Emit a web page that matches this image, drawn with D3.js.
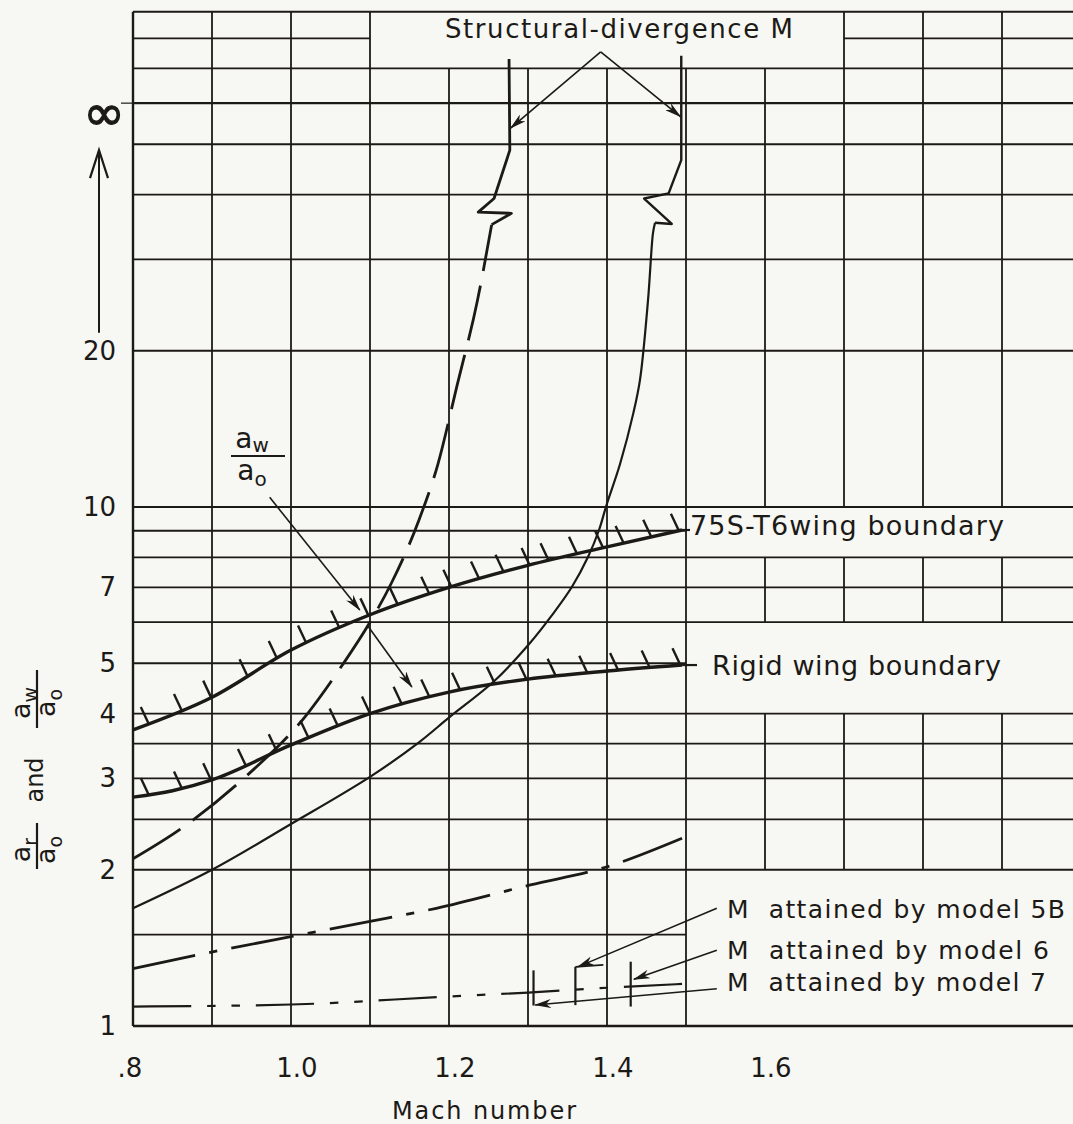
<!DOCTYPE html>
<html>
<head>
<meta charset="utf-8">
<script src="https://cdn.jsdelivr.net/npm/d3@7"></script>
<style>
  html, body { margin: 0; padding: 0; background: #f7f7f4; }
  svg { display: block; }
  text { font-family: "DejaVu Sans", sans-serif; fill: #1c1a17; }
</style>
</head>
<body>
<div id="chart"></div>
<script>
var width = 1073, height = 1124;
var ink = "#1c1a17";

// axes
var machGrid = [0.8, 0.9, 1.0, 1.1, 1.2, 1.3, 1.4, 1.5, 1.6, 1.7, 1.8, 1.9];
var machTicks = [0.8, 1.0, 1.2, 1.4, 1.6];
var machTickLabels = [".8", "1.0", "1.2", "1.4", "1.6"];
var ratioGrid = [1, 1.5, 2, 2.5, 3, 3.5, 4, 5, 6, 7, 8, 9, 10, 20, 30, 40, 50, 60, 70, 80, 90];
var ratioTicks = [1, 2, 3, 4, 5, 7, 10, 20];
var ratioTickLabels = ["1", "2", "3", "4", "5", "7", "10", "20"];
var infinityLevel = 60;

// curves, [Mach, ratio]
var wing75S = [[0.8, 3.72], [0.9, 4.3], [1.0, 5.3], [1.1, 6.2], [1.2, 7.0], [1.3, 7.72], [1.4, 8.38], [1.495, 9.03]];
var rigidWing = [[0.8, 2.76], [0.85, 2.84], [0.9, 2.98], [1.0, 3.48], [1.1, 4.0], [1.2, 4.4], [1.3, 4.66], [1.4, 4.83], [1.495, 4.96]];
var awCurve = [[0.8, 2.10], [0.859, 2.39], [0.938, 2.98], [1.021, 4.0], [1.065, 4.96], [1.098, 5.93], [1.127, 7.13],
               [1.162, 9.44], [1.186, 12.1], [1.210, 17.1], [1.236, 25.0], [1.254, 35.0]];
var awBreak = [[1.254, 35.0], [1.279, 36.8], [1.237, 37.0], [1.257, 39.3], [1.277, 48.7], [1.276, 73]];
var arCurve = [[0.8, 1.686], [0.9, 2.0], [1.0, 2.45], [1.1, 3.02], [1.162, 3.52], [1.201, 3.94], [1.258, 4.63],
               [1.3025, 5.47], [1.3304, 6.19], [1.3557, 7.02], [1.3759, 8.01], [1.3899, 9.03], [1.3994, 10.09],
               [1.4165, 12.1], [1.4335, 15.2], [1.4418, 17.6], [1.4519, 25.0], [1.4582, 33.7], [1.4608, 35.3]];
var arBreak = [[1.4608, 35.3], [1.482, 35.1], [1.447, 39.3], [1.478, 40.2], [1.494, 46.6], [1.494, 74]];
var lowerCurve = [[0.8, 1.29], [0.881, 1.37], [1.003, 1.49], [1.1, 1.59], [1.184, 1.686], [1.303, 1.87], [1.397, 2.02], [1.495, 2.3]];
var model7Curve = [[0.8, 1.09], [1.0, 1.10], [1.2, 1.14], [1.3, 1.16], [1.4, 1.185], [1.495, 1.205]];

// hatch positions along the boundaries (Mach)
var wing75SHatch = [0.82, 0.862, 0.899, 0.945, 0.982, 1.019, 1.061, 1.098, 1.135, 1.175, 1.203, 1.238, 1.269,
                    1.302, 1.326, 1.362, 1.395, 1.421, 1.456, 1.491];
var rigidHatch = [0.82, 0.862, 0.899, 0.943, 0.982, 1.022, 1.059, 1.100, 1.140, 1.175, 1.214, 1.258, 1.298,
                  1.335, 1.375, 1.414, 1.454, 1.493];

// model markers: Mach attained, ratio from / to
var modelNames = ["5B", "6", "7"];
var modelMach = [1.36, 1.43, 1.307];
var modelLow = [1.097, 1.09, 1.095];
var modelHigh = [1.30, 1.33, 1.28];

var x = d3.scaleLinear().domain([0.8, 2.0]).range([133, 1081]);
var y = d3.scaleLog().domain([1, 90]).range([1026, 1026 - 519 * Math.log10(90)]);

var svg = d3.select("#chart")
    .append("svg")
    .attr("width", width)
    .attr("height", height);

svg.append("rect").attr("width", width).attr("height", height).attr("fill", "#f7f7f4");

var defs = svg.append("defs");
defs.append("marker")
    .attr("id", "arrow")
    .attr("viewBox", "0 0 17 9")
    .attr("refX", 16).attr("refY", 4.5)
    .attr("markerWidth", 17).attr("markerHeight", 9)
    .attr("markerUnits", "userSpaceOnUse")
    .attr("orient", "auto")
    .append("path")
    .attr("d", "M0,0 L17,4.5 L0,9 L5,4.5 Z")
    .attr("fill", ink);

// grid, with the gaps left for the labels
var vSegs = [];
machGrid.forEach(function(m) {
    var top = (m >= 1.15 && m <= 1.65) ? 70 : 90;
    if (m > 1.55) {
        vSegs.push([m, 2, 4], [m, 6, 8], [m, 10, top]);
    } else {
        vSegs.push([m, 1, top]);
    }
});
var hSegs = [];
ratioGrid.forEach(function(r) {
    if (r === 1.5 || r === 9 || r === 5) hSegs.push([r, 0.8, 1.5]);
    else if (r === 80) hSegs.push([r, 0.8, 1.1], [r, 1.7, 2.0]);
    else hSegs.push([r, 0.8, 2.0]);
});

var grid = svg.append("g").attr("stroke", ink).attr("fill", "none");
grid.selectAll("line.v")
    .data(vSegs)
    .enter().append("line")
    .attr("class", "v")
    .attr("x1", function(d) { return x(d[0]); })
    .attr("x2", function(d) { return x(d[0]); })
    .attr("y1", function(d) { return y(d[1]); })
    .attr("y2", function(d) { return y(d[2]); })
    .attr("stroke-width", function(d) { return d[0] === 0.8 ? 2.4 : 1.8; });
grid.selectAll("line.h")
    .data(hSegs)
    .enter().append("line")
    .attr("class", "h")
    .attr("x1", function(d) { return x(d[1]); })
    .attr("x2", function(d) { return x(d[2]); })
    .attr("y1", function(d) { return y(d[0]); })
    .attr("y2", function(d) { return y(d[0]); })
    .attr("stroke-width", function(d) { return (d[0] === 1 || d[0] === infinityLevel) ? 2.4 : 1.8; });
// little tick left of the infinity line
grid.append("line")
    .attr("x1", x(0.8) - 12).attr("x2", x(0.8))
    .attr("y1", y(infinityLevel)).attr("y2", y(infinityLevel))
    .attr("stroke-width", 1.2);

// tick labels
svg.append("g").selectAll("text")
    .data(machTicks)
    .enter().append("text")
    .attr("x", function(d, i) { return x(d) + (i === 0 ? -3 : 6); })
    .attr("y", 1077)
    .attr("text-anchor", "middle")
    .style("font-size", "26px")
    .text(function(d, i) { return machTickLabels[i]; });

svg.append("g").selectAll("text")
    .data(ratioTicks)
    .enter().append("text")
    .attr("x", 116)
    .attr("y", function(d) { return y(d) + 9; })
    .attr("text-anchor", "end")
    .style("font-size", "26px")
    .text(function(d, i) { return ratioTickLabels[i]; });

svg.append("text")
    .attr("x", 104).attr("y", y(infinityLevel) + 27)
    .attr("text-anchor", "middle")
    .style("font-size", "50px")
    .style("stroke", ink).style("stroke-width", "1.2px")
    .text("\u221e");

// arrow towards infinity
svg.append("line")
    .attr("x1", 99).attr("x2", 99)
    .attr("y1", y(20) - 18).attr("y2", y(infinityLevel) + 48)
    .attr("stroke", ink).attr("stroke-width", 2);
svg.append("path")
    .attr("d", "M90,28 L99,0 L108,28")
    .attr("transform", "translate(0," + (y(infinityLevel) + 47) + ")")
    .attr("fill", "none").attr("stroke", ink).attr("stroke-width", 2.2);

svg.append("text")
    .attr("x", 484).attr("y", 1119)
    .attr("text-anchor", "middle")
    .style("font-size", "24px")
    .attr("textLength", 184)
    .text("Mach number");

// rotated y title: ar/ao and aw/ao
function fraction(g, sub, w) {
    g.append("text").attr("x", -4).attr("y", -7).attr("text-anchor", "middle")
        .style("font-size", "27px")
        .text("a")
        .append("tspan").attr("dy", 7).style("font-size", "19px").text(sub);
    g.append("line").attr("x1", -w / 2).attr("x2", w / 2).attr("y1", 0).attr("y2", 0)
        .attr("stroke", ink).attr("stroke-width", 2.2);
    g.append("text").attr("x", -4).attr("y", 18).attr("text-anchor", "middle")
        .style("font-size", "27px")
        .text("a")
        .append("tspan").attr("dy", 7).style("font-size", "19px").text("o");
}
fraction(svg.append("g").attr("transform", "translate(37,846) rotate(-90)"), "r", 46);
fraction(svg.append("g").attr("transform", "translate(37,699) rotate(-90)"), "w", 58);
svg.append("text")
    .attr("transform", "translate(43,780) rotate(-90)")
    .attr("text-anchor", "middle")
    .style("font-size", "24px")
    .text("and");

// curves
var line = d3.line()
    .x(function(d) { return x(d[0]); })
    .y(function(d) { return y(d[1]); })
    .curve(d3.curveMonotoneX);
var smooth = d3.line()
    .x(function(d) { return x(d[0]); })
    .y(function(d) { return y(d[1]); })
    .curve(d3.curveCatmullRom.alpha(0.5));
var straight = d3.line()
    .x(function(d) { return x(d[0]); })
    .y(function(d) { return y(d[1]); });

var curves = svg.append("g").attr("fill", "none").attr("stroke", ink)
    .attr("stroke-linejoin", "round");

// stretch a dash pattern so the path ends on a full first dash
function fitDash(sel, pattern) {
    var len = sel.node().getTotalLength();
    var period = d3.sum(pattern);
    var n = Math.max(1, Math.round((len - pattern[0]) / period));
    var s = len / (n * period + pattern[0]);
    sel.attr("stroke-dasharray", pattern.map(function(v) { return v * s; }).join(","));
}

var path75 = curves.append("path").attr("d", line(wing75S)).attr("stroke-width", 3.4);
var pathRigid = curves.append("path").attr("d", line(rigidWing)).attr("stroke-width", 3.4);
curves.append("path").attr("d", line(awCurve)).attr("stroke-width", 2.8)
    .attr("stroke-dasharray", "56,15");
curves.append("path").attr("d", straight(awBreak)).attr("stroke-width", 2.8);
curves.append("path").attr("d", smooth(arCurve)).attr("stroke-width", 2.2);
curves.append("path").attr("d", straight(arBreak)).attr("stroke-width", 2.4);
fitDash(curves.append("path").attr("d", line(lowerCurve)).attr("stroke-width", 2.8), [62, 14, 8, 14]);
fitDash(curves.append("path").attr("d", line(model7Curve)).attr("stroke-width", 2.2), [55, 15, 8, 15, 8, 15]);

// stubs from boundary ends to their labels
curves.append("line")
    .attr("x1", x(wing75S[wing75S.length - 1][0])).attr("x2", 690)
    .attr("y1", y(wing75S[wing75S.length - 1][1])).attr("y2", y(wing75S[wing75S.length - 1][1]))
    .attr("stroke-width", 2.2);
curves.append("line")
    .attr("x1", x(rigidWing[rigidWing.length - 1][0])).attr("x2", 697)
    .attr("y1", y(rigidWing[rigidWing.length - 1][1])).attr("y2", y(rigidWing[rigidWing.length - 1][1]))
    .attr("stroke-width", 2.2);

// hatching on the boundaries
function pointAtX(node, px) {
    var len = node.getTotalLength(), lo = 0, hi = len;
    for (var k = 0; k < 40; k++) {
        var mid = (lo + hi) / 2;
        if (node.getPointAtLength(mid).x < px) lo = mid; else hi = mid;
    }
    return node.getPointAtLength(lo);
}
function hatch(node, list) {
    curves.append("g").selectAll("line")
        .data(list)
        .enter().append("line")
        .each(function(m) {
            var p = pointAtX(node, x(m));
            d3.select(this)
                .attr("x1", p.x).attr("y1", p.y)
                .attr("x2", p.x - 8).attr("y2", p.y - 17);
        })
        .attr("stroke-width", 2.4);
}
hatch(path75.node(), wing75SHatch);
hatch(pathRigid.node(), rigidHatch);

// model markers
curves.append("g").selectAll("line")
    .data(modelMach)
    .enter().append("line")
    .attr("x1", function(d) { return x(d); })
    .attr("x2", function(d) { return x(d); })
    .attr("y1", function(d, i) { return y(modelLow[i]); })
    .attr("y2", function(d, i) { return y(modelHigh[i]); })
    .attr("stroke-width", 2.2);
// short cap on top of the model 5B marker
curves.append("line")
    .attr("x1", x(modelMach[0])).attr("x2", x(modelMach[0]) + 28)
    .attr("y1", y(modelHigh[0])).attr("y2", y(modelHigh[0]) - 2)
    .attr("stroke-width", 1.8);

// arrows: [[Mach, ratio] from, [Mach, ratio] to]
var arrows = [
    [[1.392, 75.3], [1.278, 53.7]],
    [[1.392, 75.3], [1.493, 56.5]],
    [[0.973, 10.44], [1.087, 6.33]],
    [[1.098, 5.88], [1.153, 4.5]],
    [[1.539, 1.686], [1.363, 1.30]],
    [[1.539, 1.40], [1.434, 1.23]],
    [[1.539, 1.18], [1.309, 1.098]]
];
svg.append("g").selectAll("line")
    .data(arrows)
    .enter().append("line")
    .attr("x1", function(d) { return x(d[0][0]); })
    .attr("y1", function(d) { return y(d[0][1]); })
    .attr("x2", function(d) { return x(d[1][0]); })
    .attr("y2", function(d) { return y(d[1][1]); })
    .attr("stroke", ink).attr("stroke-width", 1.6)
    .attr("marker-end", "url(#arrow)");

// labels
function label(txt, lx, ly, size, len) {
    svg.append("text")
        .attr("x", lx).attr("y", ly)
        .style("font-size", size + "px")
        .style("white-space", "pre")
        .attr("textLength", len)
        .attr("lengthAdjust", "spacing")
        .text(txt);
}
label("Structural-divergence M", 445, 38, 26, 348);
label("75S-T6wing boundary", 690, 535, 27, 314);
label("Rigid wing boundary", 712, 675, 27, 289);
label("M  attained by model " + modelNames[0], 727, 918, 25, 338);
label("M  attained by model " + modelNames[1], 727, 959, 25, 322);
label("M  attained by model " + modelNames[2], 727, 991, 25, 319);

// aw/ao label inside the plot
var fr = svg.append("g").attr("transform", "translate(258,456)");
fr.append("text").attr("x", -6).attr("y", -8).attr("text-anchor", "middle")
    .style("font-size", "28px").text("a")
    .append("tspan").attr("dy", 4).style("font-size", "20px").text("w");
fr.append("line").attr("x1", -27).attr("x2", 27).attr("y1", 0).attr("y2", 0)
    .attr("stroke", ink).attr("stroke-width", 2);
fr.append("text").attr("x", -6).attr("y", 24).attr("text-anchor", "middle")
    .style("font-size", "28px").text("a")
    .append("tspan").attr("dy", 6).style("font-size", "20px").text("o");
</script>
</body>
</html>
